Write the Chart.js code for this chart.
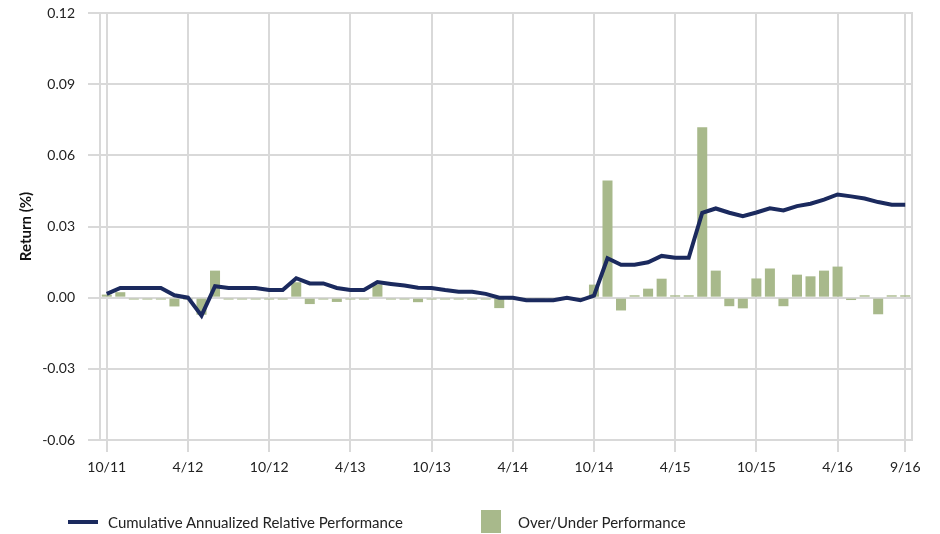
<!DOCTYPE html>
<html>
<head>
<meta charset="utf-8">
<script src="https://cdn.jsdelivr.net/npm/chart.js@4"></script>
<style>
  html, body { margin: 0; padding: 0; background: #fff; }
  #wrap { position: relative; width: 940px; height: 534px; }
  #legend { position: absolute; left: 0; top: 0; width: 940px; height: 534px; pointer-events: none;
            font-family: Lato, "Open Sans", sans-serif; font-size: 15px; color: #222; }
  .lg { position: absolute; white-space: nowrap; }
</style>
</head>
<body>
<div id="wrap">
  <canvas id="c" width="940" height="534"></canvas>
  <div id="legend">
    <div class="lg" style="left:68px; top:520px; width:30px; height:4px; background:#1b2a5e;"></div>
    <div class="lg" style="left:108px; top:513px;">Cumulative Annualized Relative Performance</div>
    <div class="lg" style="left:481px; top:510px; width:20px; height:23px; background:#a8b98b;"></div>
    <div class="lg" style="left:518px; top:513px;">Over/Under Performance</div>
  </div>
</div>
<script>
const categories = [
  "10/11","11/11","12/11","1/12","2/12","3/12","4/12","5/12","6/12","7/12","8/12","9/12",
  "10/12","11/12","12/12","1/13","2/13","3/13","4/13","5/13","6/13","7/13","8/13","9/13",
  "10/13","11/13","12/13","1/14","2/14","3/14","4/14","5/14","6/14","7/14","8/14","9/14",
  "10/14","11/14","12/14","1/15","2/15","3/15","4/15","5/15","6/15","7/15","8/15","9/15",
  "10/15","11/15","12/15","1/16","2/16","3/16","4/16","5/16","6/16","7/16","8/16","9/16"
];
const tickLabels = ["10/11","4/12","10/12","4/13","10/13","4/14","10/14","4/15","10/15","4/16","9/16"];
const overUnder = [
  0.0013, 0.0023, -0.0008, -0.0008, -0.0008, -0.0037, -0.0008, -0.0072, 0.0114, -0.0008, -0.0008, -0.0008,
  -0.0008, -0.0008, 0.0065, -0.0027, -0.0008, -0.0018, -0.0008, -0.0008, 0.0056, -0.0008, -0.0008, -0.0019,
  -0.0008, -0.0008, -0.0008, -0.0008, -0.0008, -0.0044, -0.0008, -0.0008, -0.0008, -0.0008, -0.0008, -0.0008,
  0.0055, 0.0494, -0.0054, 0.0010, 0.0038, 0.0080, 0.0010, 0.0010, 0.0718, 0.0114, -0.0036, -0.0045,
  0.0081, 0.0123, -0.0036, 0.0097, 0.0090, 0.0114, 0.0131, -0.0010, 0.0010, -0.0070, 0.0010, 0.0010
];
const cumulative = [
  0.0016, 0.0041, 0.0041, 0.0041, 0.0041, 0.0010, 0.0000, -0.0076, 0.0048, 0.0041, 0.0041, 0.0041,
  0.0032, 0.0032, 0.0082, 0.0060, 0.0060, 0.0041, 0.0032, 0.0032, 0.0066, 0.0058, 0.0051, 0.0042,
  0.0041, 0.0032, 0.0025, 0.0025, 0.0016, 0.0000, 0.0000, -0.0011, -0.0011, -0.0011, 0.0000, -0.0011,
  0.0008, 0.0166, 0.0139, 0.0139, 0.0149, 0.0176, 0.0168, 0.0168, 0.0358, 0.0376, 0.0358, 0.0343,
  0.0359, 0.0377, 0.0368, 0.0386, 0.0396, 0.0413, 0.0435, 0.0427, 0.0418, 0.0403, 0.0392, 0.0392
];
const yTicks = [-0.06, -0.03, 0.00, 0.03, 0.06, 0.09, 0.12];

const GRID = '#d9d9d9';
const isLabeled = (i) => tickLabels.includes(categories[i]);

const boxPlugin = {
  id: 'box',
  beforeDatasetsDraw(chart) {
    const a = chart.chartArea, ctx = chart.ctx;
    ctx.save();
    ctx.strokeStyle = GRID;
    ctx.lineWidth = 2;
    ctx.strokeRect(a.left, a.top, a.right - a.left, a.bottom - a.top);
    ctx.restore();
  }
};

Chart.defaults.font.family = 'Lato, "Open Sans", sans-serif';
Chart.defaults.color = '#222';

new Chart(document.getElementById('c'), {
  type: 'bar',
  data: {
    labels: categories,
    datasets: [
      {
        type: 'line',
        label: 'Cumulative Annualized Relative Performance',
        data: cumulative,
        borderColor: '#1b2a5e',
        backgroundColor: '#1b2a5e',
        borderWidth: 4,
        pointRadius: 0,
        tension: 0,
        order: 0
      },
      {
        type: 'bar',
        label: 'Over/Under Performance',
        data: overUnder,
        backgroundColor: '#a8b98b',
        borderWidth: 0,
        categoryPercentage: 1.0,
        barPercentage: 0.74,
        order: 1
      }
    ]
  },
  options: {
    responsive: false,
    animation: false,
    events: [],
    layout: { padding: { left: 0, right: 28, top: 13, bottom: 0 } },
    plugins: { legend: { display: false }, tooltip: { enabled: false } },
    scales: {
      x: {
        offset: true,
        afterFit(scale) { scale.height = 94; },
        grid: {
          offset: false,
          lineWidth: 2,
          tickLength: 12,
          color: (ctx) => isLabeled(ctx.index) ? GRID : 'rgba(0,0,0,0)'
        },
        border: { display: true, color: GRID, width: 2 },
        ticks: {
          autoSkip: false,
          maxRotation: 0,
          minRotation: 0,
          padding: 7,
          font: { size: 14 },
          color: '#222',
          callback(value, index) { return isLabeled(index) ? categories[index] : ''; }
        }
      },
      y: {
        min: yTicks[0],
        max: yTicks[yTicks.length - 1],
        afterFit(scale) { scale.width = 100; scale.paddingTop = 0; scale.paddingBottom = 0; },
        afterBuildTicks(scale) { scale.ticks = yTicks.map(v => ({ value: v })); },
        grid: { color: GRID, lineWidth: 2, tickLength: 12 },
        border: { display: true, color: GRID, width: 2 },
        ticks: {
          padding: 13,
          font: { size: 14 },
          color: '#222',
          callback(value) { return Number(value).toFixed(2); }
        },
        title: {
          display: true,
          text: 'Return (%)',
          color: '#111',
          font: { size: 15, weight: 'bold' },
          padding: { top: 17, bottom: 0 }
        }
      }
    }
  },
  plugins: [boxPlugin]
});
</script>
</body>
</html>
